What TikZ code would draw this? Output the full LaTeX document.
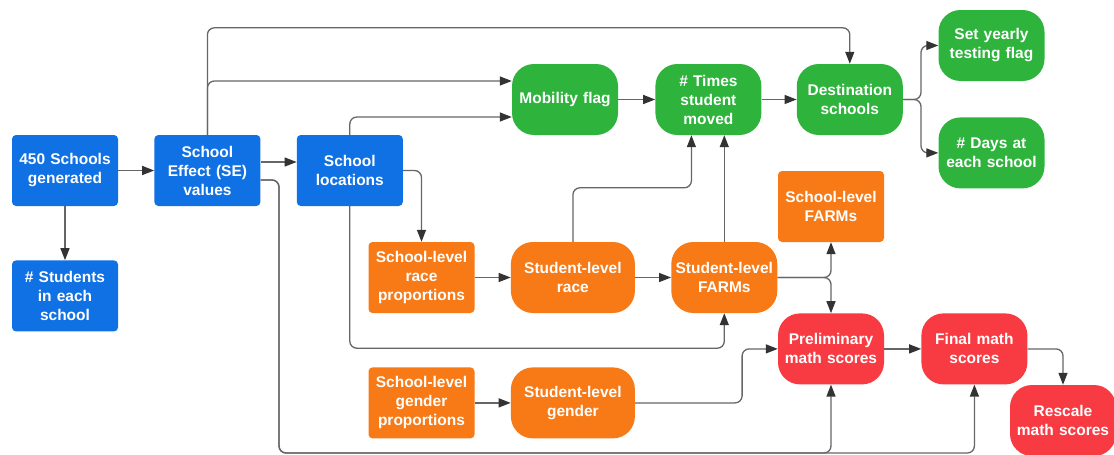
\documentclass[tikz,border=0pt]{standalone}
\usepackage{fontspec}
\setmainfont{Liberation Sans}
\usetikzlibrary{arrows.meta, positioning}

\definecolor{schblue}{HTML}{1071E5}
\definecolor{movgreen}{HTML}{2EB43C}
\definecolor{demorange}{HTML}{F77A16}
\definecolor{scorered}{HTML}{F83B42}
\definecolor{linegray}{HTML}{666666}
\definecolor{tipgray}{HTML}{333333}

\begin{document}
\begin{tikzpicture}[x=1pt, y=-1pt,
    box/.style={rectangle, rounded corners=4pt,
                text width=100pt, minimum width=106pt, minimum height=71pt,
                inner sep=3pt, align=center, text=white,
                font=\bfseries\fontsize{15.5}{19}\selectfont},
    pill/.style={box, rounded corners=22pt},
    widepill/.style={pill, text width=118pt, minimum width=124pt},
    arrow/.style={-{Triangle[length=12pt,width=9pt,color=tipgray]}, draw=linegray,
                  line width=1.3pt, rounded corners=7pt}
]
\useasboundingbox (0,0) rectangle (1114,455);

%% SCHOOLS
\node[box, fill=schblue] (schools) at (65,170.5) {450 Schools\\generated};
\node[box, fill=schblue, below=54pt of schools] (students) {\# Students\\in each\\school};
\node[box, fill=schblue, right=36pt of schools] (effect) {School\\Effect (SE)\\values};
\node[box, fill=schblue, right=36pt of effect] (locations) {School\\locations};

\draw[arrow] (schools) -- (effect);
\draw[arrow] (schools) -- (students);
\draw[arrow] ([yshift=8.5pt]effect.east) -- ([yshift=8.5pt]locations.west);

%% MOBILITY
\node[pill, fill=movgreen] (mobility) at (565,99.5) {Mobility flag};
\node[pill, fill=movgreen, right=37pt of mobility] (moves) {\# Times\\student\\moved};
\node[pill, fill=movgreen, right=35pt of moves] (destination) {Destination\\schools};
\node[pill, fill=movgreen] (testing) at (991.5,45.5) {Set yearly\\testing flag};
\node[pill, fill=movgreen, below=36pt of testing] (days) {\# Days at\\each school};

\draw[arrow] (effect.north) |- ([yshift=36pt]destination.north) -- (destination.north);
\draw[arrow] (effect.north) |- ([yshift=18.5pt]mobility.west);
\draw[arrow] (locations.north) |- ([yshift=-17.5pt]mobility.west);
\draw[arrow] (mobility) -- (moves);
\draw[arrow] (moves) -- (destination);
\draw[arrow] (destination.east) -- ++(18,0) |- (testing.west);
\draw[arrow] (destination.east) -- ++(18,0) |- (days.west);

%% DEMOGRAPHICS
\node[box, fill=demorange] (racemix) at (421.5,277.5) {School-level\\race\\proportions};
\node[widepill, fill=demorange, right=36pt of racemix] (race) {Student-level\\race};
\node[pill, fill=demorange, right=36pt of race] (farms) {Student-level\\FARMs};
\node[box, fill=demorange] (schfarms) at (831,206.5) {School-level\\FARMs};
\node[box, fill=demorange, below=54pt of racemix] (gendermix) {School-level\\gender\\proportions};
\node[widepill, fill=demorange, right=36pt of gendermix] (gender) {Student-level\\gender};

\draw[arrow] (locations.east) -| (racemix.north);
\draw[arrow] (racemix) -- (race);
\draw[arrow] (race) -- (farms);
\draw[arrow] (locations.south) -- ++(0,142) -| (farms.south);
\draw[arrow] (race.north) -- ++(0,-54) -| ([xshift=-17pt]moves.south);
\draw[arrow] (farms.north) -- (farms.north |- moves.south);
\draw[arrow] (farms.east) -| (schfarms.south);
\draw[arrow] (gendermix) -- (gender);

%% MATH SCORES
\node[pill, fill=scorered, below=71pt of schfarms] (prelim) {Preliminary\\math scores};
\node[pill, fill=scorered, right=37pt of prelim] (final) {Final math\\scores};
\node[pill, fill=scorered] (rescale) at (1063,420.5) {Rescale\\math scores};

\coordinate (bottom) at (279,453);
\draw[arrow] (farms.east) -| (prelim.north);
\draw[arrow] (gender.east) -- ++(107,0) |- (prelim.west);
\draw[arrow] ([yshift=-9.5pt]effect.east) -| (bottom) -| (prelim.south);
\draw[arrow] ([yshift=-9.5pt]effect.east) -| (bottom) -| (final.south);
\draw[arrow] (prelim) -- (final);
\draw[arrow] (final.east) -| (rescale.north);

\end{tikzpicture}
\end{document}
